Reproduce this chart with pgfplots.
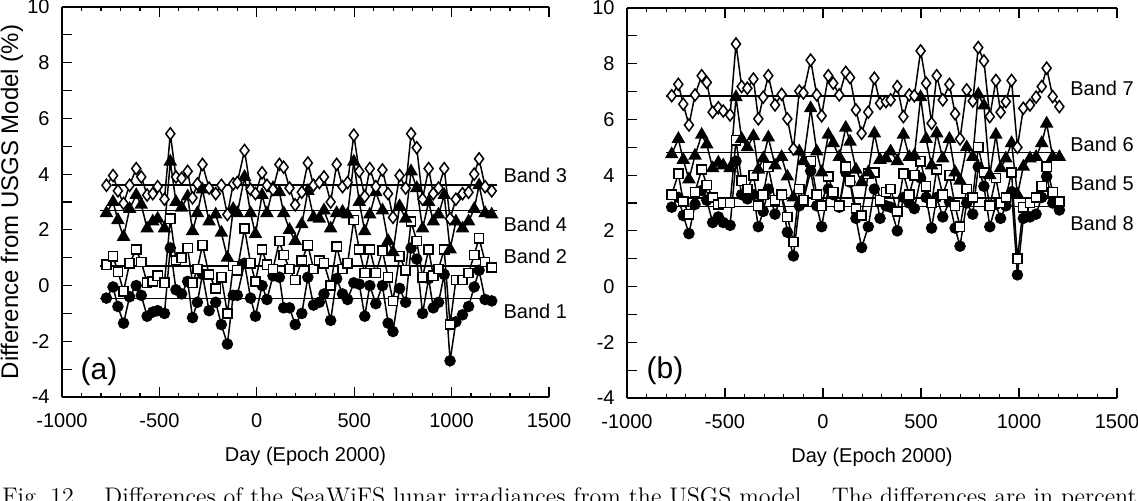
\documentclass[border=0pt]{standalone}
\usepackage{fontspec}
\usepackage{pgfplots}
\usepackage{pgfplotstable}
\pgfplotsset{compat=1.18}
\newfontfamily\arial{Liberation Sans}

\pgfplotstableread{
day b1 b2 b3 b4
-772 -0.45 0.75 3.60 2.60
-738 -0.05 1.05 3.95 3.00
-713 -0.75 0.50 3.40 2.35
-684 -1.35 -0.20 2.95 1.75
-653 -0.40 0.80 3.60 2.75
-619 0.00 1.30 4.20 3.25
-593 -0.35 0.85 3.90 2.90
-563 -1.10 0.10 3.25 2.05
-534 -0.95 0.15 3.30 2.30
-509 -0.90 0.35 3.55 2.40
-474 -1.00 0.10 3.10 2.05
-444 1.35 2.40 5.45 4.45
-415 -0.15 0.90 3.90 3.00
-386 -0.30 1.00 3.85 2.80
-355 0.15 1.35 4.10 3.20
-330 -1.15 0.10 3.15 1.95
-305 -0.60 0.60 3.65 2.60
-279 0.40 1.45 4.35 3.45
-245 -0.90 0.40 3.50 2.30
-211 -0.60 -0.10 3.30 2.55
-182 -1.40 0.30 3.60 1.90
-151 -2.10 -1.00 2.55 1.00
-121 -0.35 0.70 3.65 2.75
-100 -0.35 0.55 3.70 2.60
-63 0.80 2.05 4.85 3.90
-32 -0.45 0.80 3.45 2.60
-7 -1.10 0.15 3.30 1.85
27 0.00 1.30 4.05 3.25
52 -0.50 0.75 3.60 2.60
83 0.35 0.60 3.45 3.50
116 0.30 1.60 4.35 3.35
138 -0.80 1.10 4.25 2.60
168 -0.80 0.60 3.50 2.00
197 -1.40 0.20 2.90 1.60
231 -1.00 0.90 3.35 2.20
262 0.30 1.45 4.40 3.40
291 -0.70 0.60 3.60 2.45
321 -0.60 0.90 3.70 2.40
345 -0.30 0.80 3.90 2.70
379 -1.25 0.00 3.00 2.05
410 0.25 1.40 4.35 2.60
440 -0.30 0.60 3.55 2.65
466 -0.50 0.80 3.70 2.55
498 0.10 2.35 5.40 4.45
526 0.05 1.30 4.10 3.00
554 -1.10 0.45 3.20 1.95
580 0.00 1.30 4.20 2.55
611 -0.65 0.45 3.55 3.35
645 0.00 1.25 4.15 2.70
674 -1.35 0.30 3.30 1.60
699 -1.65 -0.55 2.45 1.20
733 -0.10 1.05 3.95 2.85
764 -0.60 0.55 3.50 2.40
792 1.35 2.30 5.45 4.10
821 0.95 1.60 4.95 3.50
851 -1.00 0.30 3.10 2.05
882 0.25 1.30 4.20 3.00
906 -0.80 0.35 3.30 2.30
933 -0.60 0.60 3.50 2.55
962 0.40 1.30 4.20 3.25
992 -2.70 -1.40 2.40 1.30
1022 -1.30 0.20 3.10 2.30
1056 -1.05 0.20 3.30 2.05
1087 -0.75 0.45 3.35 2.30
1116 -0.05 1.10 4.00 2.75
1141 0.55 1.70 4.55 3.60
1172 -0.50 0.85 3.55 2.60
1206 -0.55 0.65 3.40 2.55
}\tabA

\pgfplotstableread{
day b5 b6 b7 b8
-772 3.30 4.75 6.85 2.85
-738 4.05 5.30 7.26 3.20
-713 3.05 4.55 6.55 2.55
-684 2.60 3.85 5.80 1.90
-653 3.40 4.70 6.88 2.95
-619 4.20 5.45 7.57 3.45
-593 3.65 5.10 7.33 3.10
-563 3.20 4.25 6.26 2.30
-534 2.95 4.45 6.42 2.50
-509 3.00 4.35 6.30 2.30
-474 3.00 4.25 6.16 2.20
-444 5.25 6.80 8.71 4.50
-415 3.80 5.30 7.18 3.30
-386 3.50 5.00 7.12 3.15
-355 4.00 5.40 7.45 3.30
-330 2.90 4.20 6.02 2.15
-305 3.30 4.60 6.80 2.70
-279 4.30 5.35 7.57 3.50
-245 3.10 4.35 6.52 2.60
-211 3.30 4.65 6.90 3.30
-182 2.50 3.95 6.02 1.95
-151 1.60 3.20 4.94 1.10
-121 3.50 4.85 7.02 2.90
-100 3.10 4.50 6.95 3.10
-63 4.50 6.40 8.13 4.15
-32 3.30 4.85 6.88 2.90
-7 2.90 4.10 6.13 2.15
27 3.95 5.45 7.57 3.50
52 3.40 5.15 7.30 3.30
83 2.90 4.65 6.88 2.85
116 4.30 5.70 7.69 4.10
138 3.80 5.20 7.50 3.75
168 2.80 4.20 6.34 2.45
197 2.55 3.75 5.50 1.40
231 4.05 4.10 6.26 2.15
262 4.10 5.50 7.48 3.50
291 3.10 4.55 6.58 2.45
321 3.40 4.60 6.64 2.90
345 3.50 4.85 6.70 2.85
379 2.70 4.50 7.18 2.00
410 4.05 5.45 6.10 3.20
440 3.30 4.65 6.88 3.00
466 4.00 4.70 6.85 2.80
498 4.50 6.80 8.46 3.90
526 3.60 5.30 7.30 3.20
554 3.00 4.35 5.86 2.10
580 4.20 5.50 7.57 3.20
611 3.30 4.60 6.70 2.50
645 4.00 5.30 7.26 3.05
674 2.90 4.10 6.20 2.10
699 2.15 3.80 5.30 1.45
733 3.50 5.00 7.06 3.00
764 3.20 4.65 6.66 2.60
792 5.00 6.90 8.58 4.30
821 4.10 6.50 8.10 3.60
851 2.90 4.00 6.10 2.15
882 3.90 5.45 7.40 2.95
906 3.00 4.25 6.26 2.45
933 3.20 4.60 6.64 2.90
962 4.10 5.15 7.40 3.40
992 1.00 3.30 5.00 0.42
1022 2.85 4.30 6.40 2.45
1056 3.00 4.60 6.52 2.50
1087 3.20 4.65 6.80 2.60
1116 3.60 5.15 7.18 3.20
1141 4.30 5.85 7.84 3.95
1172 3.40 4.65 6.82 3.00
1206 3.05 4.65 6.46 2.75
}\tabB

\pgfplotsset{
  panel/.style={
    scale only axis, width=243.5pt, height=195pt,
    xmin=-1000, xmax=1500, ymin=-4, ymax=10,
    clip=false,
    axis x line*=box, axis y line*=left,
    axis line style={line width=1pt},
    every tick/.style={black, line width=0.6pt},
    tick align=inside,
    xtick={-1000,-500,...,1500}, minor x tick num=4,
    ytick={-4,...,10}, yticklabels={-4,,-2,,0,,2,,4,,6,,8,,10},
    major tick length=5pt, minor tick length=2.2pt,
    font=\arial\fontsize{10}{12}\selectfont,
    /pgf/number format/assume math mode=true,
    /pgf/number format/1000 sep={},
    xticklabel style={inner sep=0pt, anchor=north, yshift=-8pt},
    yticklabel style={inner sep=0pt, anchor=east, xshift=-6pt},
    xlabel={Day (Epoch 2000)},
    xlabel style={at={(axis description cs:0.5,0)}, anchor=north, inner sep=0pt, yshift=-25pt},
    every axis plot/.append style={black, line width=0.75pt},
  },
  mcirc/.style={mark=*, mark size=2.5pt, mark options={fill=black, solid}},
  msq/.style={mark=square*, mark size=2.3pt, mark options={fill=white, solid}},
  mdia/.style={mark=diamond*, mark size=3pt, mark options={fill=white, solid}},
  mtri/.style={mark=triangle*, mark size=3.2pt, mark options={fill=black, solid}},
  mline/.style={no marks, line width=0.8pt},
}

\begin{document}
\begin{tikzpicture}
% panel (a)
\begin{axis}[panel, at={(31pt,51.5pt)}, anchor=south west,
  ylabel={Difference from USGS Model (\%)},
  ylabel style={at={(axis description cs:-0.1027,0.5)}, anchor=center, inner sep=0pt, font=\arial\fontsize{12}{14}\selectfont}]
\addplot[mline] coordinates {(-805,-0.47) (1225,-0.47)};
\addplot[mline] coordinates {(-805,0.71) (1225,0.71)};
\addplot[mline] coordinates {(-805,2.69) (1235,2.69)};
\addplot[mline] coordinates {(-745,3.61) (1235,3.61)};
\addplot[mcirc] table[x=day, y=b1] {\tabA};
\addplot[msq] table[x=day, y=b2] {\tabA};
\addplot[mtri] table[x=day, y=b4] {\tabA};
\addplot[mdia] table[x=day, y=b3] {\tabA};
\node[anchor=west, inner sep=0pt] at (axis cs:1265,3.97) {Band 3};
\node[anchor=west, inner sep=0pt] at (axis cs:1265,2.18) {Band 4};
\node[anchor=west, inner sep=0pt] at (axis cs:1265,1.04) {Band 2};
\node[anchor=west, inner sep=0pt] at (axis cs:1265,-0.94) {Band 1};
\node[inner sep=0pt, font=\arial\fontsize{15}{17}\selectfont] at (axis cs:-810,-3.1) {(a)};
\end{axis}
% panel (b)
\begin{axis}[panel, at={(313.5pt,51pt)}, anchor=south west, width=245pt]
\addplot[mline] coordinates {(-800,2.87) (1195,2.87)};
\addplot[mline] coordinates {(-800,3.19) (1220,3.19)};
\addplot[mline] coordinates {(-800,4.82) (1195,4.82)};
\addplot[mline] coordinates {(-800,6.85) (1005,6.85)};
\addplot[mcirc] table[x=day, y=b8] {\tabB};
\addplot[msq] table[x=day, y=b5] {\tabB};
\addplot[mtri] table[x=day, y=b6] {\tabB};
\addplot[mdia] table[x=day, y=b7] {\tabB};
\node[anchor=west, inner sep=0pt] at (axis cs:1260,7.13) {Band 7};
\node[anchor=west, inner sep=0pt] at (axis cs:1260,5.12) {Band 6};
\node[anchor=west, inner sep=0pt] at (axis cs:1260,3.70) {Band 5};
\node[anchor=west, inner sep=0pt] at (axis cs:1260,2.28) {Band 8};
\node[inner sep=0pt, font=\arial\fontsize{15}{17}\selectfont] at (axis cs:-806,-3.03) {(b)};
\end{axis}
\node[anchor=base west, inner sep=0pt, font=\rmfamily\fontsize{12}{14}\selectfont] at (1pt,-2pt)
  {Fig.~12.\quad Differences of the SeaWiFS lunar irradiances from the USGS model.\quad The differences are in percent};
\pgfresetboundingbox
\useasboundingbox (0,0) rectangle (569pt,250pt);
\end{tikzpicture}
\end{document}
